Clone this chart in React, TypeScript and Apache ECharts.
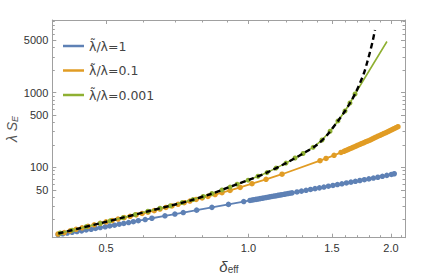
import React, { useEffect, useRef } from "react";
import * as echarts from "echarts";

// ---- data (δ_eff, λ S_E) ----
const blueDelta = [0.396,0.405,0.414,0.424,0.434,0.444,0.454,0.465,0.475,0.486,0.498,0.509,0.521,0.533,0.545,0.558,0.571,0.585,0.605,0.625,0.666,0.699,0.728,0.777,0.837,0.907,0.977,1.007,1.017,1.027,1.037,1.047,1.058,1.068,1.078,1.089,1.100,1.110,1.121,1.132,1.143,1.154,1.166,1.177,1.189,1.200,1.212,1.224,1.236,1.266,1.294,1.323,1.352,1.382,1.412,1.443,1.475,1.508,1.541,1.575,1.610,1.646,1.682,1.719,1.757,1.796,1.836,1.876,1.918,1.960,2.004,2.032];
const blueS = [12.6,12.9,13.2,13.5,13.8,14.1,14.5,14.8,15.2,15.6,16.0,16.4,16.8,17.3,17.7,18.2,18.7,19.3,20.0,20.8,22.4,23.7,24.8,26.7,29.1,31.9,34.8,36.0,36.4,36.8,37.2,37.6,38.1,38.5,38.9,39.4,39.8,40.3,40.7,41.2,41.6,42.1,42.6,43.0,43.5,44.0,44.5,45.0,45.5,46.8,48.0,49.2,50.5,51.8,53.1,54.4,55.8,57.2,58.7,60.2,61.7,63.3,64.9,66.6,68.3,70.0,71.8,73.6,75.8,78.0,80.2,82.0];

const orangeDelta = [0.396,0.408,0.420,0.432,0.445,0.458,0.472,0.486,0.500,0.515,0.530,0.546,0.562,0.579,0.596,0.613,0.632,0.650,0.669,0.689,0.710,0.731,0.752,0.775,0.798,0.821,0.850,0.879,0.914,0.960,1.017,1.089,1.177,1.416,1.458,1.516,1.568,1.591,1.607,1.622,1.638,1.654,1.671,1.687,1.703,1.720,1.737,1.754,1.771,1.788,1.806,1.823,1.841,1.859,1.877,1.896,1.914,1.933,1.952,1.971,1.990,2.010,2.029,2.049,2.069];
const orangeS = [12.8,13.4,14.1,14.8,15.5,16.2,17.0,17.8,18.6,19.4,20.3,21.2,22.1,23.1,24.1,25.1,26.3,27.6,29.0,30.4,32.0,33.6,35.3,37.1,38.9,40.8,43.2,45.7,49.1,53.8,60.3,69.1,80.8,122.6,131.6,144.7,158.3,163.8,168.4,173.1,177.4,182.4,187.5,192.8,197.6,203.2,208.9,214.1,220.1,225.6,232.0,238.5,246.0,252.9,260.8,268.2,275.7,284.3,292.4,301.5,309.9,319.6,328.6,338.9,349.6];

const greenDelta = [0.400,0.424,0.454,0.486,0.510,0.543,0.576,0.613,0.650,0.683,0.724,0.763,0.802,0.837,0.879,0.914,0.946,0.998,1.047,1.094,1.143,1.200,1.254,1.304,1.369,1.430,1.487,1.545,1.599,1.638,1.679,1.961];
const greenS = [13.2,14.4,16.0,17.8,19.2,21.2,23.3,25.8,28.3,30.5,33.7,37.0,40.7,44.6,49.8,54.3,59.4,67.2,76.0,84.9,97.6,113.8,133.2,153.0,185.2,232.0,304.2,418.0,567.2,725.8,957.8,4832];

const blackDelta = [0.3965,0.4406,0.4856,0.5397,0.6194,0.6827,0.7524,0.8296,0.8920,0.9442,1.0073,1.0925,1.2042,1.3054,1.3933,1.4629,1.5477,1.5990,1.6384,1.6787,1.7200,1.7538,1.7796,1.8058,1.8278,1.8502];
const blackS = [13.0,15.3,17.8,21.0,26.2,30.5,35.9,43.6,51.7,59.2,68.7,84.7,115.2,153.9,198.8,266.6,423.1,567.2,725.8,957.8,1345,1830,2491,3495,4758,6887];

const seriesNames = ["λ\u0303/λ=1", "λ\u0303/λ=0.1", "λ\u0303/λ=0.001"];

const xMajorTicks = [0.5, 1.0, 1.5, 2.0];
const xMajorLabels = ["0.5", "1.0", "1.5", "2.0"];
const xMinorTicks = [0.6, 0.7, 0.8, 0.9, 1.1, 1.2, 1.3, 1.4, 1.6, 1.7, 1.8, 1.9, 2.1];
const yMajorTicks = [50, 100, 500, 1000, 5000];
const yMajorLabels = ["50", "100", "500", "1000", "5000"];
const yMinorTicks = [20, 30, 40, 60, 70, 80, 90, 200, 300, 400, 600, 700, 800, 900, 2000, 3000, 4000, 6000, 7000, 8000, 9000];
const xRange = [0.385, 2.141];
const yRange = [11.42, 9380];

const lx = (v: number) => Math.log(v);
const ly = (v: number) => Math.log10(v);

const FONT = "'Liberation Sans', Arial, 'DejaVu Sans', sans-serif";
const LEGEND_FONT = "'DejaVu Sans', 'Liberation Sans', sans-serif";
const AXIS_COLOR = "#a0a0a0";

function pairs(xs: number[], ys: number[]) {
  return xs.map((d, i) => [lx(d), ly(ys[i])]);
}

function labelFor(ticks: number[], labels: string[], f: (v: number) => number) {
  return (v: number) => {
    for (let i = 0; i < ticks.length; i++) {
      if (Math.abs(f(ticks[i]) - v) < 1e-6) return labels[i];
    }
    return "";
  };
}

function makeAxis(
  kind: "x" | "y",
  position: string,
  ticks: number[],
  len: number,
  showLine: boolean,
  labels: string[] | null
) {
  const f = kind === "x" ? lx : ly;
  const range = kind === "x" ? xRange : yRange;
  const majorTicks = kind === "x" ? xMajorTicks : yMajorTicks;
  return {
    type: "value",
    position,
    min: f(range[0]),
    max: f(range[1]),
    axisLine: { show: showLine, onZero: false, lineStyle: { color: AXIS_COLOR, width: 1 } },
    axisTick: {
      show: true,
      inside: true,
      length: len,
      customValues: ticks.map(f),
      lineStyle: { color: AXIS_COLOR, width: 1 },
    },
    axisLabel: labels
      ? {
          show: true,
          customValues: majorTicks.map(f),
          formatter: labelFor(majorTicks, labels, f),
          color: "#333",
          fontSize: 11,
          fontFamily: FONT,
          margin: kind === "x" ? 5 : 4,
        }
      : { show: false },
    splitLine: { show: false },
  };
}

export default function App() {
  const ref = useRef<HTMLDivElement>(null);

  useEffect(() => {
    if (!ref.current) return;
    const chart = echarts.init(ref.current, null, { renderer: "svg" });

    const greenData: any[] = pairs(greenDelta, greenS).map((p, i) =>
      i === greenDelta.length - 1 ? { value: p, symbol: "none" } : p
    );

    const option: any = {
      animation: false,
      backgroundColor: "#ffffff",
      grid: { left: 52.3, right: 20, top: 20, bottom: 41.3, outerBoundsMode: "none" },
      xAxis: [
        makeAxis("x", "bottom", xMajorTicks, 4, true, xMajorLabels),
        makeAxis("x", "bottom", xMinorTicks, 2.5, false, null),
        makeAxis("x", "top", xMajorTicks, 4, true, null),
        makeAxis("x", "top", xMinorTicks, 2.5, false, null),
      ],
      yAxis: [
        makeAxis("y", "left", yMajorTicks, 4, true, yMajorLabels),
        makeAxis("y", "left", yMinorTicks, 2.5, false, null),
        makeAxis("y", "right", yMajorTicks, 4, true, null),
        makeAxis("y", "right", yMinorTicks, 2.5, false, null),
      ],
      legend: {
        show: true,
        orient: "vertical",
        left: 58,
        top: 33,
        icon: "rect",
        itemWidth: 21,
        itemHeight: 2.5,
        itemGap: 8.5,
        textStyle: { fontSize: 12.5, color: "#444", lineHeight: 16, fontFamily: LEGEND_FONT },
        data: seriesNames,
      },
      series: [
        {
          name: seriesNames[0],
          type: "line",
          data: pairs(blueDelta, blueS),
          symbol: "circle",
          symbolSize: 5.5,
          lineStyle: { color: "#5E81B5", width: 1.8 },
          itemStyle: { color: "#5E81B5" },
          z: 2,
        },
        {
          name: seriesNames[1],
          type: "line",
          data: pairs(orangeDelta, orangeS),
          symbol: "circle",
          symbolSize: 5.5,
          lineStyle: { color: "#E19C24", width: 1.8 },
          itemStyle: { color: "#E19C24" },
          z: 3,
        },
        {
          name: seriesNames[2],
          type: "line",
          data: greenData,
          symbol: "circle",
          symbolSize: 5,
          lineStyle: { color: "#8FB032", width: 1.6 },
          itemStyle: { color: "#8FB032" },
          z: 4,
        },
        {
          name: "asymptotic",
          type: "line",
          data: pairs(blackDelta, blackS),
          symbol: "none",
          smooth: 0.3,
          lineStyle: { color: "#000000", width: 2.4, type: [5.5, 3.5] },
          itemStyle: { color: "#000000" },
          z: 5,
        },
      ],
      graphic: [
        {
          type: "text",
          x: 229,
          y: 266,
          style: {
            text: "{d|δ}{s|eff}",
            align: "center",
            verticalAlign: "middle",
            rich: {
              d: { fontSize: 15, fontStyle: "italic", fontFamily: FONT, fill: "#444" },
              s: { fontSize: 10, fontFamily: FONT, fill: "#444", padding: [6, 0, 0, 0] },
            },
          },
        },
        {
          type: "text",
          x: 12,
          y: 129,
          rotation: Math.PI / 2,
          style: {
            text: "{a|λ S}{b|E}",
            align: "center",
            verticalAlign: "middle",
            rich: {
              a: { fontSize: 14, fontStyle: "italic", fontFamily: FONT, fill: "#555" },
              b: { fontSize: 9, fontStyle: "italic", fontFamily: FONT, fill: "#555", padding: [5, 0, 0, 0] },
            },
          },
        },
      ],
    };

    chart.setOption(option);
    return () => chart.dispose();
  }, []);

  return (
    <div
      ref={ref}
      style={{ position: "absolute", left: 0, top: 0, width: 425, height: 279, background: "#fff" }}
    />
  );
}
